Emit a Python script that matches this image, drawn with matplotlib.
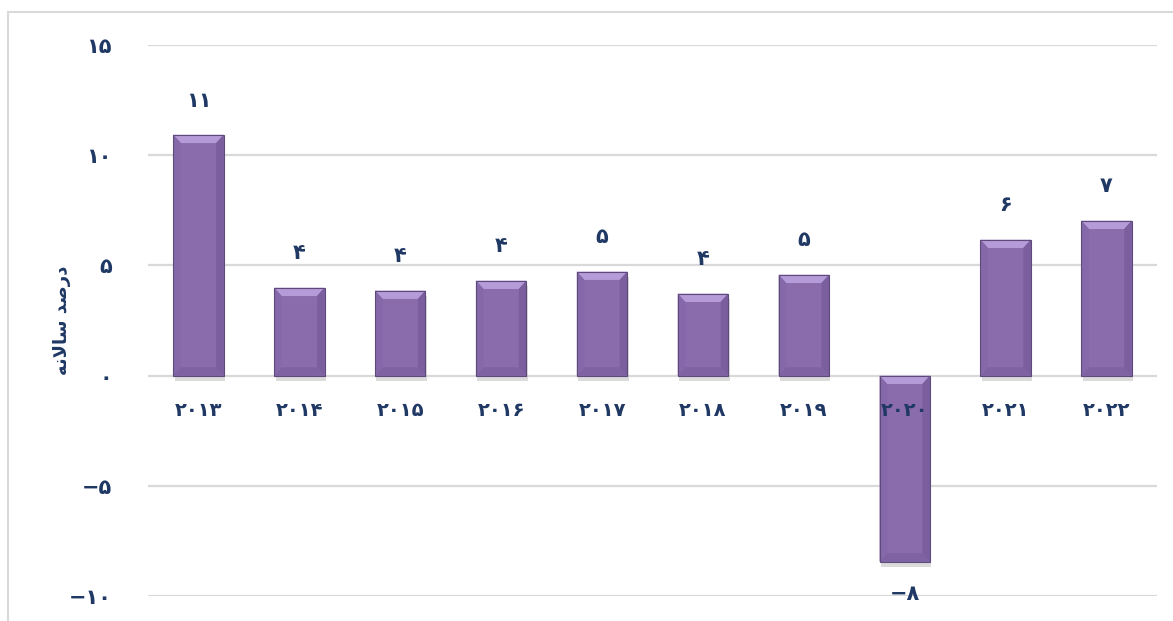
import numpy as np
import matplotlib.pyplot as plt
from matplotlib.patches import Polygon, Rectangle
import matplotlib.patheffects as pe

# data
years = ['۲۰۱۳', '۲۰۱۴', '۲۰۱۵', '۲۰۱۶', '۲۰۱۷', '۲۰۱۸', '۲۰۱۹', '۲۰۲۰', '۲۰۲۱', '۲۰۲۲']
growth = [10.93, 3.99, 3.86, 4.31, 4.72, 3.72, 4.58, -8.44, 6.17, 7.03]
value_labels = ['۱۱', '۴', '۴', '۴', '۵', '۴', '۵', '−۸', '۶', '۷']
yticks = [-10, -5, 0, 5, 10, 15]
ytick_labels = ['−۱۰', '−۵', '۰', '۵', '۱۰', '۱۵']
# "درصد سالانه" in presentation forms, visual order (no shaping engine here)
ylabel = '\uFEEA\uFEE7\uFEFB\uFE8E\uFEB3 \uFEAA\uFEBB\uFEAD\uFEA9'

navy = '#1F3864'
bar_color = '#8A6CAD'

plt.rcParams['font.family'] = ['DejaVu Sans']

fig = plt.figure(figsize=(11.73, 6.21), dpi=100)
ax = fig.add_axes([148 / 1173, 25 / 621, 1009 / 1173, 551 / 621])

x = np.arange(len(years))
w = 0.5
bars = ax.bar(x, growth, width=w, color=bar_color, edgecolor='none', zorder=3)
for b in bars:
    b.set_path_effects([pe.SimplePatchShadow(offset=(1, -4), shadow_rgbFace='#9A9A9A',
                                             alpha=0.35), pe.Normal()])

# bevel effect on each bar
bx = 0.075
by = 0.38
for xi, v in zip(x, growth):
    l, r = xi - w / 2, xi + w / 2
    top, bot = max(v, 0), min(v, 0)
    # top bevel
    ax.add_patch(Polygon([(l, top), (r, top), (r - bx, top - by), (l + bx, top - by)],
                         closed=True, facecolor='#B59BD8', edgecolor='none', zorder=4))
    # bottom bevel
    ax.add_patch(Polygon([(l, bot), (r, bot), (r - bx, bot + by), (l + bx, bot + by)],
                         closed=True, facecolor='#7E62A2', edgecolor='none', zorder=4))
    # right side darker
    ax.add_patch(Polygon([(r, top), (r, bot), (r - bx, bot + by), (r - bx, top - by)],
                         closed=True, facecolor='#7A5E9E', edgecolor='none', zorder=4))
    # left side close to face colour
    ax.add_patch(Polygon([(l, top), (l, bot), (l + bx, bot + by), (l + bx, top - by)],
                         closed=True, facecolor='#8568A9', edgecolor='none', zorder=4))
    ax.add_patch(Rectangle((l, bot), w, top - bot, facecolor='none', edgecolor='#5E4A7A',
                           linewidth=0.8, zorder=5))

# value labels
for xi, v, lab in zip(x, growth, value_labels):
    if v >= 0:
        ax.text(xi, v + 1.55, lab, ha='center', va='center', fontsize=15,
                fontweight='bold', color=navy, zorder=6)
    else:
        ax.text(xi, v - 1.45, lab, ha='center', va='center', fontsize=15,
                fontweight='bold', color=navy, zorder=6, clip_on=False)

# category labels just below zero line
for xi, lab in zip(x, years):
    ax.text(xi, -1.6, lab, ha='center', va='center', fontsize=14,
            fontweight='bold', color=navy, zorder=6)

ax.set_xlim(-0.5, len(years) - 0.5)
ax.set_ylim(-10, 15)
ax.set_yticks(yticks)
ax.set_yticklabels(ytick_labels, fontsize=15, fontweight='bold', color=navy)
ax.set_xticks([])
ax.tick_params(axis='y', length=0, pad=26)
ax.yaxis.grid(True, color='#D9D9D9', linewidth=1.6, zorder=0)
ax.set_axisbelow(True)
for s in ax.spines.values():
    s.set_visible(False)

fig.text(62 / 1173, 1 - 320 / 621, ylabel, rotation=90, ha='center', va='center',
         fontsize=13, fontweight='bold', color=navy)

# outer frame (left and top edges)
fig.add_artist(Rectangle((8 / 1173, -0.1), 1.2, 0.1 + 1 - 12 / 621,
                         transform=fig.transFigure, facecolor='none',
                         edgecolor='#D9D9D9', linewidth=1.5))

fig.savefig('out.png', dpi=100)
